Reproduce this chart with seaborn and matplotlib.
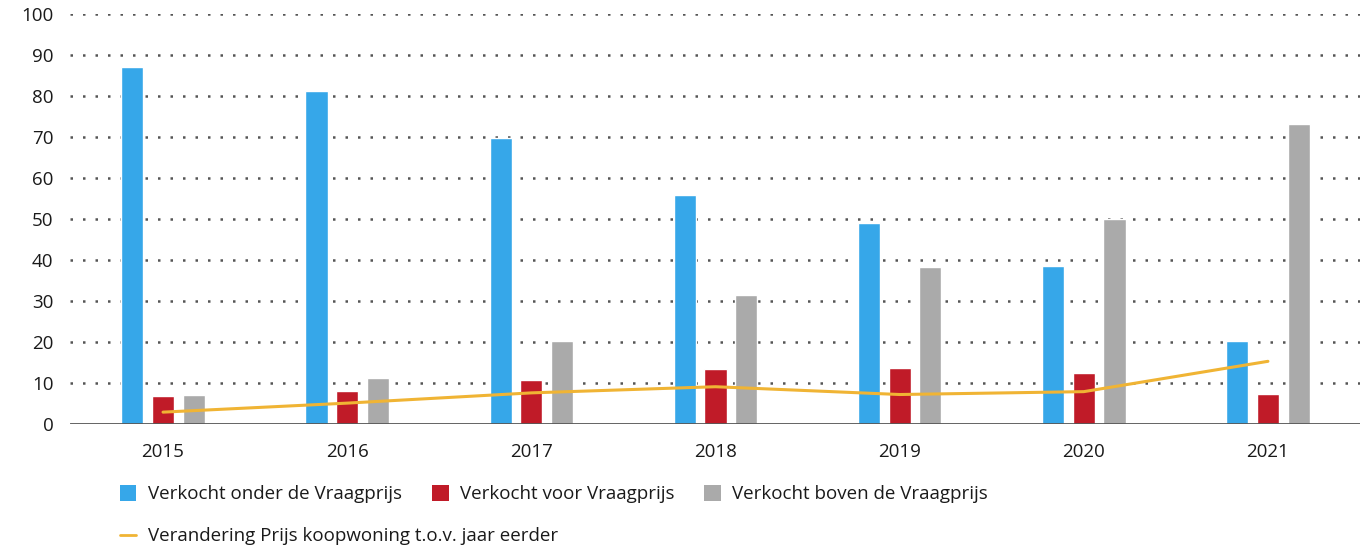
import numpy as np
import pandas as pd
import matplotlib.pyplot as plt
import seaborn as sns
from matplotlib.patches import Patch
from matplotlib.lines import Line2D

years = ["2015", "2016", "2017", "2018", "2019", "2020", "2021"]
onder = [87.1, 81.2, 69.8, 55.9, 49.0, 38.5, 20.2]
voor = [6.8, 8.0, 10.7, 13.4, 13.7, 12.4, 7.3]
boven = [7.1, 11.2, 20.2, 31.5, 38.3, 50.0, 73.2]
prijs = [2.9, 5.1, 7.6, 9.1, 7.2, 7.9, 15.3]

series = ["Verkocht onder de Vraagprijs", "Verkocht voor Vraagprijs", "Verkocht boven de Vraagprijs"]
line_label = "Verandering Prijs koopwoning t.o.v. jaar eerder"
colors = ["#36A7E9", "#C01B28", "#AAAAAA"]
line_color = "#F0B434"

df = pd.DataFrame({
    "jaar": years * 3,
    "waarde": onder + voor + boven,
    "type": [series[0]] * 7 + [series[1]] * 7 + [series[2]] * 7,
})

sns.set_theme(style="white")
plt.rcParams["font.family"] = ["Open Sans", "DejaVu Sans"]

fig = plt.figure(figsize=(13.6, 5.46), dpi=100)
ax = fig.add_axes([0.0515, 0.2234, 0.9485, 0.7506])

# dotted gridlines
for v in range(10, 101, 10):
    ax.axhline(v, color="#555555", lw=1.8, ls=(0, (1, 4)), zorder=0)

sns.barplot(df, x="jaar", y="waarde", hue="type", palette=colors,
            width=0.5, gap=0.28, saturation=1, ax=ax, legend=False, zorder=2)

ax.axhline(0, color="#555555", lw=2, zorder=3)
ax.plot(np.arange(len(years)), prijs, color=line_color, lw=2.2, zorder=4)

ax.set_xlim(-0.505, 6.5)
ax.set_ylim(0, 100)
ax.set_yticks(range(0, 101, 10))
ax.set_xlabel("")
ax.set_ylabel("")
sns.despine(ax=ax, left=True, bottom=True)
ax.tick_params(axis="both", length=0, labelsize=13.5, colors="#1a1a1a")
ax.tick_params(axis="y", pad=12)
ax.tick_params(axis="x", pad=14)

handles = [Patch(facecolor=c, edgecolor="none") for c in colors]
fig.legend(handles, series, ncol=3, loc="center left",
           bbox_to_anchor=(0.0755, 0.095), frameon=False, fontsize=13.5,
           handlelength=0.9, handleheight=0.9, handletextpad=0.6,
           columnspacing=1.6, labelcolor="#1a1a1a")
fig.legend([Line2D([0], [0], color=line_color, lw=2)], [line_label],
           loc="center left", bbox_to_anchor=(0.0755, 0.018), frameon=False,
           fontsize=13.5, handlelength=0.9, handletextpad=0.6, labelcolor="#1a1a1a")

fig.savefig("out.png", dpi=100)
